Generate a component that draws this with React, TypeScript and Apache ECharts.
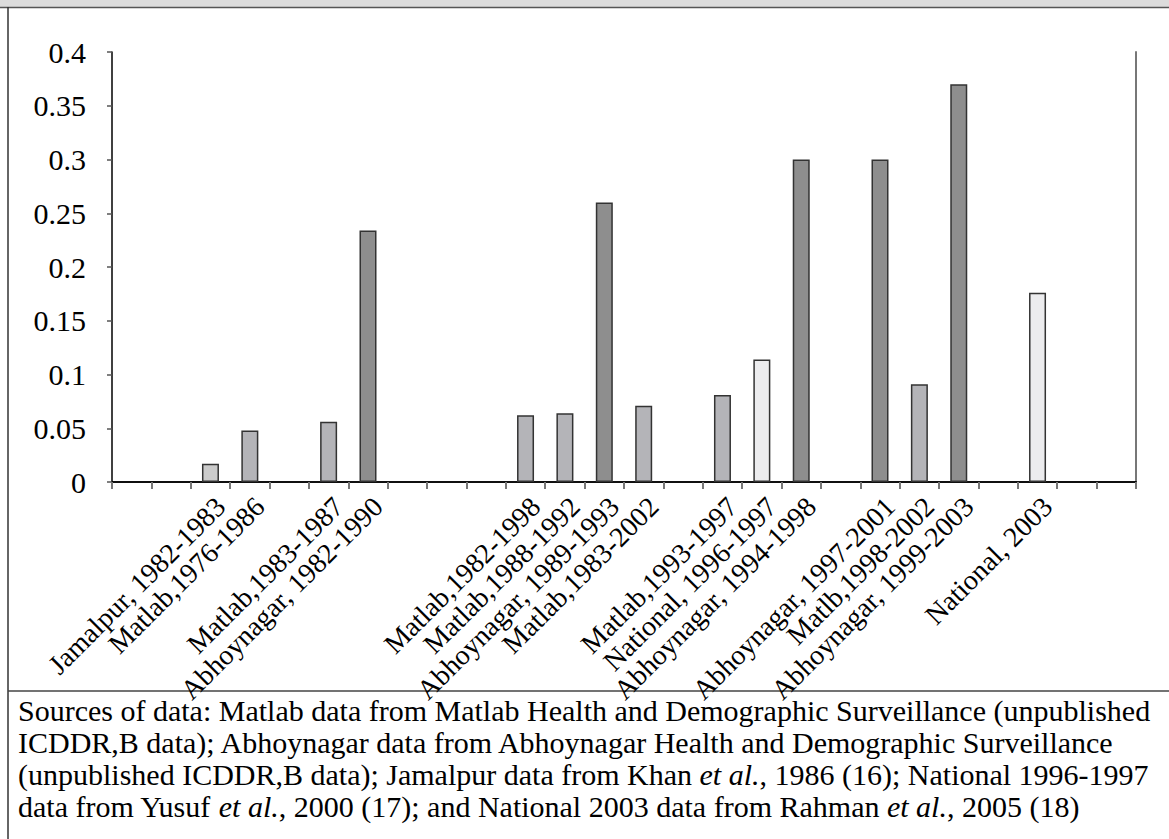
import React, { useEffect, useRef } from "react";
import * as echarts from "echarts";

const categories: string[] = [
  "", "", "Jamalpur, 1982-1983", "Matlab,1976-1986", "", "Matlab,1983-1987", "Abhoynagar, 1982-1990",
  "", "", "", "Matlab,1982-1998", "Matlab,1988-1992", "Abhoynagar, 1989-1993", "Matlab,1983-2002",
  "", "Matlab,1993-1997", "National, 1996-1997", "Abhoynagar, 1994-1998", "", "Abhoynagar, 1997-2001",
  "Matlb,1998-2002", "Abhoynagar, 1999-2003", "", "National, 2003", "", "",
];

const values: (number | null)[] = [
  null, null, 0.017, 0.048, null, 0.056, 0.234,
  null, null, null, 0.062, 0.064, 0.26, 0.071,
  null, 0.081, 0.114, 0.3, null, 0.3,
  0.091, 0.37, null, 0.176, null, null,
];

const yTicks = { min: 0, max: 0.4, interval: 0.05 };

const footnoteLines: string[] = [
  "Sources of data: Matlab data from Matlab Health and Demographic Surveillance (unpublished",
  "ICDDR,B data); Abhoynagar data from Abhoynagar Health and Demographic Surveillance",
  "(unpublished ICDDR,B data); Jamalpur data from Khan {i|et al.}, 1986 (16); National 1996-1997",
  "data from Yusuf {i|et al.}, 2000 (17); and National 2003 data from Rahman {i|et al.}, 2005 (18)",
];

const groupColor = (label: string): string => {
  if (label.startsWith("Jamalpur")) return "#cbcbcb";
  if (label.startsWith("Abhoynagar")) return "#8e8e8e";
  if (label.startsWith("National")) return "#ececee";
  return "#b4b4b8";
};

const FONT = "'Liberation Serif', 'Times New Roman', serif";

export default function App() {
  const ref = useRef<HTMLDivElement>(null);
  useEffect(() => {
    if (!ref.current) return;
    const chart = echarts.init(ref.current, undefined, { renderer: "svg" });
    const data = values.map((v, i) =>
      v === null
        ? null
        : {
            value: v,
            itemStyle: { color: groupColor(categories[i]), borderColor: "#333", borderWidth: 1.5 },
          }
    );
    chart.setOption({
      animation: false,
      backgroundColor: "#fff",
      grid: { left: 112, right: 33, top: 52, bottom: 357, containLabel: false },
      xAxis: [
        {
          type: "category",
          data: categories,
          boundaryGap: true,
          axisLine: { lineStyle: { color: "#000", width: 1.5 } },
          axisTick: { show: true, interval: 0, length: 7, lineStyle: { color: "#777", width: 2 } },
          axisLabel: {
            interval: 0,
            rotate: 45,
            fontSize: 28,
            fontFamily: FONT,
            color: "#000",
            margin: 10,
            verticalAlign: "top",
          },
          splitLine: { show: false },
        },
        {
          type: "category",
          data: categories,
          position: "top",
          axisLine: { show: true, lineStyle: { color: "#000", width: 1.5 } },
          axisTick: { show: false },
          axisLabel: { show: false },
        },
      ],
      yAxis: [
        {
          type: "value",
          min: yTicks.min,
          max: yTicks.max,
          interval: yTicks.interval,
          axisLine: { show: true, lineStyle: { color: "#000", width: 1.5 } },
          axisTick: { show: true, length: 5, lineStyle: { color: "#555", width: 1.5 } },
          axisLabel: {
            fontSize: 30,
            fontFamily: FONT,
            color: "#000",
            margin: 26,
            formatter: (v: number) => String(parseFloat(v.toFixed(2))),
          },
          splitLine: { show: false },
        },
        {
          type: "value",
          min: yTicks.min,
          max: yTicks.max,
          interval: yTicks.interval,
          position: "right",
          axisLine: { show: true, lineStyle: { color: "#777", width: 2 } },
          axisTick: { show: false },
          axisLabel: { show: false },
          splitLine: { show: false },
        },
      ],
      series: [
        {
          type: "bar",
          data,
          barWidth: 17,
          xAxisIndex: 0,
          yAxisIndex: 0,
        },
      ],
      graphic: [
        { type: "rect", shape: { x: 0, y: 0, width: 1169, height: 7 }, style: { fill: "#dcdcdc" } },
        { type: "line", shape: { x1: 0, y1: 7.5, x2: 1169, y2: 7.5 }, style: { stroke: "#555", lineWidth: 1.5 } },
        { type: "line", shape: { x1: 8, y1: 7, x2: 8, y2: 839 }, style: { stroke: "#333", lineWidth: 1.5 } },
        { type: "line", shape: { x1: 8, y1: 691, x2: 1169, y2: 691 }, style: { stroke: "#444", lineWidth: 1.5 } },
        ...footnoteLines.map((t, i) => ({
          type: "text",
          left: 18,
          top: 695 + i * 32,
          style: {
            text: t,
            font: `30px ${FONT}`,
            fill: "#000",
            rich: { i: { fontStyle: "italic", fontSize: 30, fontFamily: FONT } },
          },
        })),
      ],
    });
    return () => chart.dispose();
  }, []);
  return <div ref={ref} style={{ position: "fixed", left: 0, top: 0, width: 1169, height: 839 }} />;
}
